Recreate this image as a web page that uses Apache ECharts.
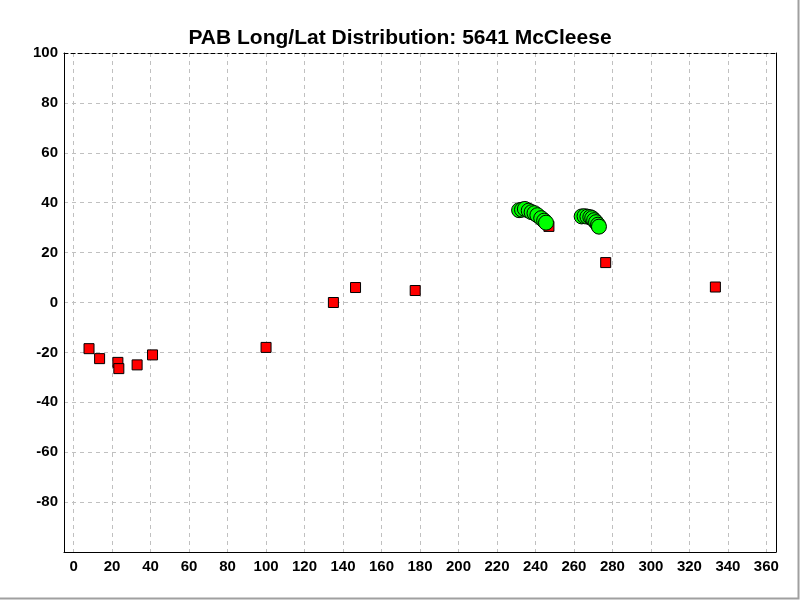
<!DOCTYPE html>
<html>
<head>
<meta charset="utf-8">
<script src="https://cdn.jsdelivr.net/npm/echarts@6/dist/echarts.min.js"></script>
<style>
html,body{margin:0;padding:0;background:#fff;}
#main{width:800px;height:600px;}
</style>
</head>
<body>
<div id="main"></div>
<script>
// Red squares: [longitude, latitude]
const redPoints = [
  [8, -18.5], [13.5, -22.5], [23, -24], [23.5, -26.5], [33, -25],
  [41, -21], [100, -18], [135, 0], [146.5, 6], [177.5, 4.8],
  [247, 30.5], [276.5, 16], [333.5, 6.2]
];
// Green circles: [longitude, latitude]
const greenPoints = [
  [231.5, 37], [233, 37.2], [234.5, 37.5], [236.5, 36.8], [238, 36.2],
  [239.5, 35.8], [241, 35], [243, 33.8], [244.5, 32.8], [245.5, 32],
  [264, 34.5], [265.5, 34.6], [267, 34.4], [268.5, 34.2], [269.5, 33.8],
  [270.5, 33], [271.5, 32.2], [272.5, 31.2], [273, 30.4]
];
const titleText = 'PAB Long/Lat Distribution: 5641 McCleese';

const chart = echarts.init(document.getElementById('main'), null, {renderer: 'canvas'});
const labelFont = {color: '#000', fontWeight: 'bold', fontSize: 15, fontFamily: 'Liberation Sans, Arial, sans-serif'};
chart.setOption({
  animation: false,
  backgroundColor: '#fff',
  title: {
    text: titleText, left: 'center', top: 23,
    textStyle: {color: '#000', fontWeight: 'bold', fontSize: 21, fontFamily: 'Liberation Sans, Arial, sans-serif'}
  },
  grid: {left: 64, right: 24, top: 53, bottom: 48, containLabel: false},
  xAxis: [{
    type: 'value', min: -5, max: 365, splitNumber: 18,
    axisLine: {show: true, onZero: false, lineStyle: {color: '#000', width: 1}},
    axisTick: {show: false},
    axisLabel: Object.assign({margin: 7, showMinLabel: false, showMaxLabel: false}, labelFont),
    splitLine: {show: true, lineStyle: {color: '#c0c0c0', type: [4, 4], width: 1}}
  }, {
    type: 'value', min: -5, max: 365, position: 'top',
    axisLine: {show: true, onZero: false, lineStyle: {color: '#000', type: [4, 3], width: 1}},
    axisTick: {show: false}, axisLabel: {show: false}, splitLine: {show: false}
  }],
  yAxis: [{
    type: 'value', min: -100, max: 100, interval: 20,
    axisLine: {show: true, onZero: false, lineStyle: {color: '#000', width: 1}},
    axisTick: {show: false},
    axisLabel: Object.assign({margin: 6, showMinLabel: false}, labelFont),
    splitLine: {show: true, lineStyle: {color: '#c0c0c0', type: [4, 4], width: 1}}
  }, {
    type: 'value', min: -100, max: 100, position: 'right',
    axisLine: {show: true, onZero: false, lineStyle: {color: '#000', width: 1}},
    axisTick: {show: false}, axisLabel: {show: false}, splitLine: {show: false}
  }],
  graphic: [{
    type: 'polyline', silent: true,
    shape: {points: [[0, 598.5], [798.5, 598.5], [798.5, 0]]},
    style: {stroke: '#a0a0a0', lineWidth: 2, fill: null}
  }],
  series: [{
    type: 'scatter', data: redPoints, symbol: 'rect', symbolSize: 10,
    itemStyle: {color: '#ff0000', borderColor: '#000', borderWidth: 1, opacity: 1},
    z: 2
  }, {
    type: 'scatter', data: greenPoints, symbol: 'circle', symbolSize: 15,
    itemStyle: {color: '#00ff00', borderColor: '#000', borderWidth: 1, opacity: 1},
    z: 3
  }]
});
</script>
</body>
</html>
